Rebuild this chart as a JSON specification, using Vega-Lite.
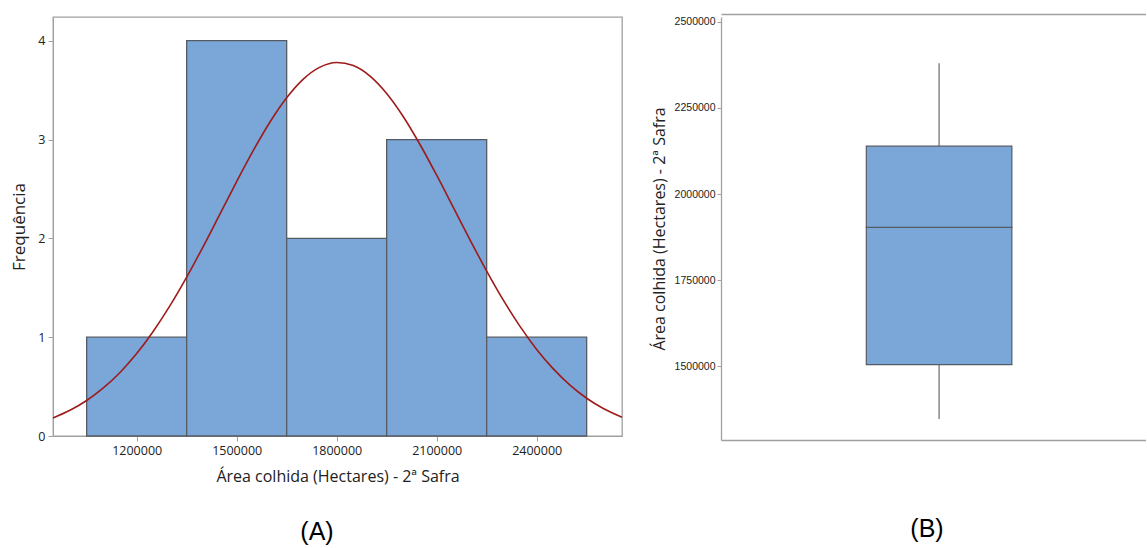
{
  "$schema": "https://vega.github.io/schema/vega-lite/v6.json",
  "background": "white",
  "padding": {"left": 10, "top": 14, "right": 0, "bottom": 0},
  "spacing": 25,
  "config": {
    "font": "Open Sans",
    "view": {"stroke": "#a0a0a0", "strokeWidth": 1.3},
    "title": {"font": "Liberation Sans", "fontSize": 25, "fontWeight": "normal", "color": "#000000", "frame": "group", "anchor": "middle"}
  },
  "hconcat": [
    {
      "width": 569,
      "height": 419,
      "title": {"text": "(A)", "orient": "bottom", "dx": -20.5, "offset": 35},
      "layer": [
        {
          "data": {"values": [
            {"inicio": 1050000, "fim": 1350000, "freq": 1},
            {"inicio": 1350000, "fim": 1650000, "freq": 4},
            {"inicio": 1650000, "fim": 1950000, "freq": 2},
            {"inicio": 1950000, "fim": 2250000, "freq": 3},
            {"inicio": 2250000, "fim": 2550000, "freq": 1}
          ]},
          "mark": {"type": "bar", "fill": "#7ba6d8", "stroke": "#555b63", "strokeWidth": 1.3},
          "encoding": {
            "x": {"field": "inicio", "type": "quantitative",
              "scale": {"domain": [949000, 2656000], "nice": false, "zero": false},
              "axis": {"values": [1200000, 1500000, 1800000, 2100000, 2400000], "format": "d", "grid": false,
                "title": "Área colhida (Hectares) - 2ª Safra",
                "labelFont": "Open Sans", "labelFontSize": 12.5, "labelColor": "#222222", "labelPadding": 3,
                "tickColor": "#a0a0a0", "tickSize": 5, "domainColor": "#a0a0a0",
                "titleFont": "Open Sans", "titleFontSize": 16, "titleFontWeight": "normal", "titleColor": "#222222", "titlePadding": 12}},
            "x2": {"field": "fim"},
            "y": {"field": "freq", "type": "quantitative",
              "scale": {"domain": [0, 4.24], "nice": false},
              "axis": {"values": [0, 1, 2, 3, 4], "format": "d", "grid": false, "title": "Frequência",
                "labelFont": "Open Sans", "labelFontSize": 12.5, "labelColor": "#222222", "labelPadding": 3,
                "tickColor": "#a0a0a0", "tickSize": 5, "domainColor": "#a0a0a0",
                "titleFont": "Open Sans", "titleFontSize": 17, "titleFontWeight": "normal", "titleColor": "#222222", "titlePadding": 9}},
            "y2": {"datum": 0}
          }
        },
        {
          "data": {"values": [
            {"area": 949000, "densidade": 0.183},
            {"area": 1000000, "densidade": 0.260},
            {"area": 1050000, "densidade": 0.359},
            {"area": 1100000, "densidade": 0.486},
            {"area": 1150000, "densidade": 0.643},
            {"area": 1200000, "densidade": 0.834},
            {"area": 1250000, "densidade": 1.060},
            {"area": 1300000, "densidade": 1.319},
            {"area": 1350000, "densidade": 1.608},
            {"area": 1400000, "densidade": 1.920},
            {"area": 1450000, "densidade": 2.247},
            {"area": 1500000, "densidade": 2.575},
            {"area": 1550000, "densidade": 2.890},
            {"area": 1600000, "densidade": 3.178},
            {"area": 1650000, "densidade": 3.423},
            {"area": 1700000, "densidade": 3.612},
            {"area": 1750000, "densidade": 3.733},
            {"area": 1800000, "densidade": 3.780},
            {"area": 1850000, "densidade": 3.749},
            {"area": 1900000, "densidade": 3.642},
            {"area": 1950000, "densidade": 3.466},
            {"area": 2000000, "densidade": 3.231},
            {"area": 2050000, "densidade": 2.950},
            {"area": 2100000, "densidade": 2.639},
            {"area": 2150000, "densidade": 2.313},
            {"area": 2200000, "densidade": 1.985},
            {"area": 2250000, "densidade": 1.669},
            {"area": 2300000, "densidade": 1.375},
            {"area": 2350000, "densidade": 1.109},
            {"area": 2400000, "densidade": 0.876},
            {"area": 2450000, "densidade": 0.679},
            {"area": 2500000, "densidade": 0.515},
            {"area": 2550000, "densidade": 0.382},
            {"area": 2600000, "densidade": 0.278},
            {"area": 2656000, "densidade": 0.190}
          ]},
          "mark": {"type": "line", "color": "#9e1b1b", "strokeWidth": 1.6, "interpolate": "monotone"},
          "encoding": {
            "x": {"field": "area", "type": "quantitative"},
            "y": {"field": "densidade", "type": "quantitative"}
          }
        }
      ]
    },
    {
      "width": 425,
      "height": 423,
      "view": {"stroke": null},
      "title": {"text": "(B)", "orient": "bottom", "dx": -6.5, "offset": 77},
      "data": {"values": [
        {"variavel": "Área colhida", "minimo": 1346000, "q1": 1504000, "mediana": 1903000, "q3": 2139000, "maximo": 2380000}
      ]},
      "resolve": {"axis": {"x": "independent"}},
      "layer": [
        {
          "mark": {"type": "rule", "color": "#777777", "strokeWidth": 1.3},
          "encoding": {
            "x": {"field": "variavel", "type": "nominal",
              "scale": {"paddingInner": 0, "paddingOuter": 0.96, "align": 0.52},
              "axis": {"orient": "bottom", "labels": false, "ticks": false, "title": null, "domainColor": "#a0a0a0", "domainWidth": 1.3}},
            "y": {"field": "minimo", "type": "quantitative",
              "scale": {"domain": [1285000, 2514500], "nice": false, "zero": false},
              "axis": {"values": [1500000, 1750000, 2000000, 2250000, 2500000], "format": "d", "grid": false,
                "title": "Área colhida (Hectares) - 2ª Safra",
                "labelFont": "Liberation Sans", "labelFontSize": 10.5, "labelColor": "#222222", "labelPadding": 2,
                "tickColor": "#a0a0a0", "tickSize": 4, "domainColor": "#a0a0a0", "domainWidth": 1.3,
                "titleFont": "Open Sans", "titleFontSize": 16, "titleFontWeight": "normal", "titleColor": "#222222", "titlePadding": 7}},
            "y2": {"field": "q1"}
          }
        },
        {
          "mark": {"type": "rule", "color": "#777777", "strokeWidth": 1.3},
          "encoding": {
            "x": {"field": "variavel", "type": "nominal",
              "axis": {"orient": "top", "labels": false, "ticks": false, "title": null, "domainColor": "#a0a0a0", "domainWidth": 1.3, "offset": 3}},
            "y": {"field": "q3", "type": "quantitative"},
            "y2": {"field": "maximo"}
          }
        },
        {
          "mark": {"type": "bar", "fill": "#7ba6d8", "stroke": "#555b63", "strokeWidth": 1.2},
          "encoding": {
            "x": {"field": "variavel", "type": "nominal", "axis": null},
            "y": {"field": "q1", "type": "quantitative"},
            "y2": {"field": "mediana"}
          }
        },
        {
          "mark": {"type": "bar", "fill": "#7ba6d8", "stroke": "#555b63", "strokeWidth": 1.2},
          "encoding": {
            "x": {"field": "variavel", "type": "nominal", "axis": null},
            "y": {"field": "mediana", "type": "quantitative"},
            "y2": {"field": "q3"}
          }
        }
      ]
    }
  ]
}
